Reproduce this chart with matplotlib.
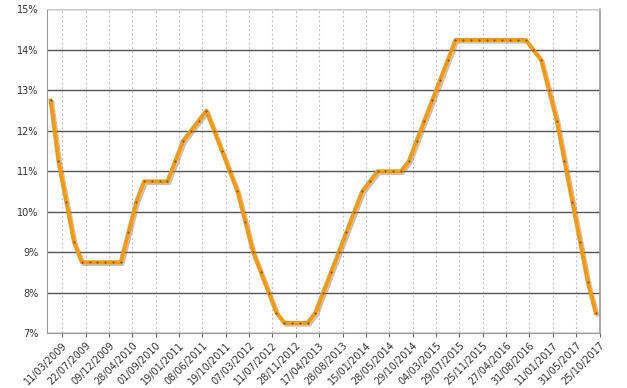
import matplotlib
matplotlib.use("Agg")
import matplotlib.pyplot as plt
import matplotlib.patheffects as pe
import numpy as np

# Selic rate at each COPOM meeting, Jan 2009 - Oct 2017 (evenly spaced categories)
rates = [12.75, 11.25, 10.25, 9.25, 8.75, 8.75, 8.75, 8.75,
         8.75, 8.75, 9.50, 10.25, 10.75, 10.75, 10.75, 10.75,
         11.25, 11.75, 12.00, 12.25, 12.50, 12.00, 11.50, 11.00,
         10.50, 9.75, 9.00, 8.50, 8.00, 7.50, 7.25, 7.25,
         7.25, 7.25, 7.50, 8.00, 8.50, 9.00, 9.50, 10.00,
         10.50, 10.75, 11.00, 11.00, 11.00, 11.00, 11.25, 11.75,
         12.25, 12.75, 13.25, 13.75, 14.25, 14.25, 14.25, 14.25,
         14.25, 14.25, 14.25, 14.25, 14.25, 14.25, 14.00, 13.75,
         13.00, 12.25, 11.25, 10.25, 9.25, 8.25, 7.50]

tick_labels = ['11/03/2009', '22/07/2009', '09/12/2009', '28/04/2010', '01/09/2010',
               '19/01/2011', '08/06/2011', '19/10/2011', '07/03/2012', '11/07/2012',
               '28/11/2012', '17/04/2013', '28/08/2013', '15/01/2014', '28/05/2014',
               '29/10/2014', '04/03/2015', '29/07/2015', '25/11/2015', '27/04/2016',
               '31/08/2016', '11/01/2017', '31/05/2017', '25/10/2017']

x = np.arange(len(rates))
tick_pos = 1.5 + 3 * np.arange(len(tick_labels))

fig = plt.figure(figsize=(6.27, 3.88), dpi=100)
ax = fig.add_axes([46.7/627, 1 - 333/388, (599.5-46.7)/627, (333-9.5)/388])

ax.plot(x, rates, color='#FF9900', lw=2.8, zorder=3, solid_joinstyle='round',
        path_effects=[pe.SimpleLineShadow(offset=(1.3, -1.3), shadow_color='#777777', alpha=0.45),
                      pe.Normal()])
ax.plot(x, rates, ls='none', marker='o', ms=1.6, mfc='#7a5a20', mec='none', zorder=4)

ax.set_xlim(-0.5, 70.5)
ax.set_ylim(7, 15)
ax.set_yticks(range(7, 16))
ax.set_yticklabels(['%d%%' % v for v in range(7, 16)], fontsize=7, color='#333333')
ax.set_xticks(tick_pos)
ax.set_xticklabels(tick_labels, rotation=45, ha='right', va='top',
                   rotation_mode='anchor', fontsize=7, color='#333333')

ax.grid(axis='y', color='#555555', lw=1.0, zorder=1)
ax.grid(axis='x', color='#c8c8c8', lw=0.8, ls=(0, (2, 2)), zorder=1)
ax.tick_params(axis='y', length=0, pad=6)
ax.tick_params(axis='x', length=3, color='#666666', pad=2)

for s in ['left', 'bottom', 'right']:
    ax.spines[s].set_color('#999999')
ax.spines['top'].set_color('#cccccc')
ax.spines['right'].set_linewidth(1.2)

fig.savefig('out.png', dpi=100)
